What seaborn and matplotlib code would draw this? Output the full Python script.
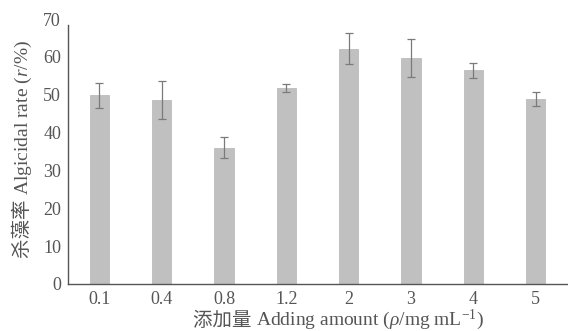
import matplotlib
matplotlib.use("Agg")
import matplotlib.pyplot as plt
import seaborn as sns
import pandas as pd

categories = ["0.1", "0.4", "0.8", "1.2", "2", "3", "4", "5"]
values = [49.9, 48.7, 36.0, 51.7, 62.2, 59.7, 56.5, 48.9]
errors = [3.3, 5.0, 2.8, 1.1, 4.0, 4.9, 2.0, 1.8]
yticks = [0, 10, 20, 30, 40, 50, 60, 70]

sns.set_style("white")
plt.rcParams['font.family'] = ['Liberation Serif', 'Noto Sans CJK SC']
plt.rcParams['mathtext.fontset'] = 'custom'
plt.rcParams['mathtext.rm'] = 'Liberation Serif'
plt.rcParams['mathtext.it'] = 'Liberation Serif:italic'

TXT = "#555555"
XLAB_FS = 14
YLAB_FS = 14

df = pd.DataFrame({"cat": categories, "val": values})

fig = plt.figure(figsize=(5.68, 3.31), dpi=100)
ax = fig.add_axes([68/568, 1 - 284/331, (567 - 68)/568, (284 - 19)/331])

sns.barplot(data=df, x="cat", y="val", ax=ax, color="#c0c0c0", width=0.31,
            saturation=1, errorbar=None, edgecolor="#b5b5b5", linewidth=0.5)
ax.errorbar(range(len(categories)), values, yerr=errors, fmt="none",
            ecolor="#7a7a7a", elinewidth=0.9, capsize=3, capthick=0.9)

ax.set_xlim(-0.5, len(categories) - 0.5)
ax.set_ylim(0, 70)
ax.set_yticks(yticks)
ax.tick_params(axis="both", length=0, labelsize=13, colors=TXT, pad=5)
ax.set_xlabel("")
ax.set_ylabel("")

for s in ["top", "right"]:
    ax.spines[s].set_visible(False)
for s in ["left", "bottom"]:
    ax.spines[s].set_color("#555555")
    ax.spines[s].set_linewidth(1.0)
ax.spines["left"].set_bounds(0, 68.5)

# Axis titles built from pieces so CJK and italic/superscript parts both render
fig.canvas.draw()
r = fig.canvas.get_renderer()
inv = fig.transFigure.inverted()

# x label
x0, yb = 193 / 568, 1 - 325.5 / 331
t1 = fig.text(x0, yb, "添加量 ", fontsize=XLAB_FS, color=TXT,
              family=['Noto Sans CJK SC'], ha="left", va="baseline")
bb = t1.get_window_extent(r)
x1 = inv.transform((bb.x1, 0))[0]
fig.text(x1, yb, "Adding amount ($\\mathit{\\rho}$/mg mL$^{-1}$)", fontsize=XLAB_FS,
         color=TXT, ha="left", va="baseline")

# y label (vertical)
xb, y0 = 28 / 568, 1 - 258 / 331
t2 = fig.text(xb, y0, "杀藻率 ", fontsize=YLAB_FS, color=TXT,
              family=['Noto Sans CJK SC'], ha="left", va="baseline",
              rotation=90, rotation_mode="anchor")
bb = t2.get_window_extent(r)
y1 = inv.transform((0, bb.y1))[1]
fig.text(xb, y1, "Algicidal rate ($\\mathit{r}$/%)", fontsize=YLAB_FS, color=TXT,
         ha="left", va="baseline", rotation=90, rotation_mode="anchor")

fig.savefig("out.png", dpi=100)
